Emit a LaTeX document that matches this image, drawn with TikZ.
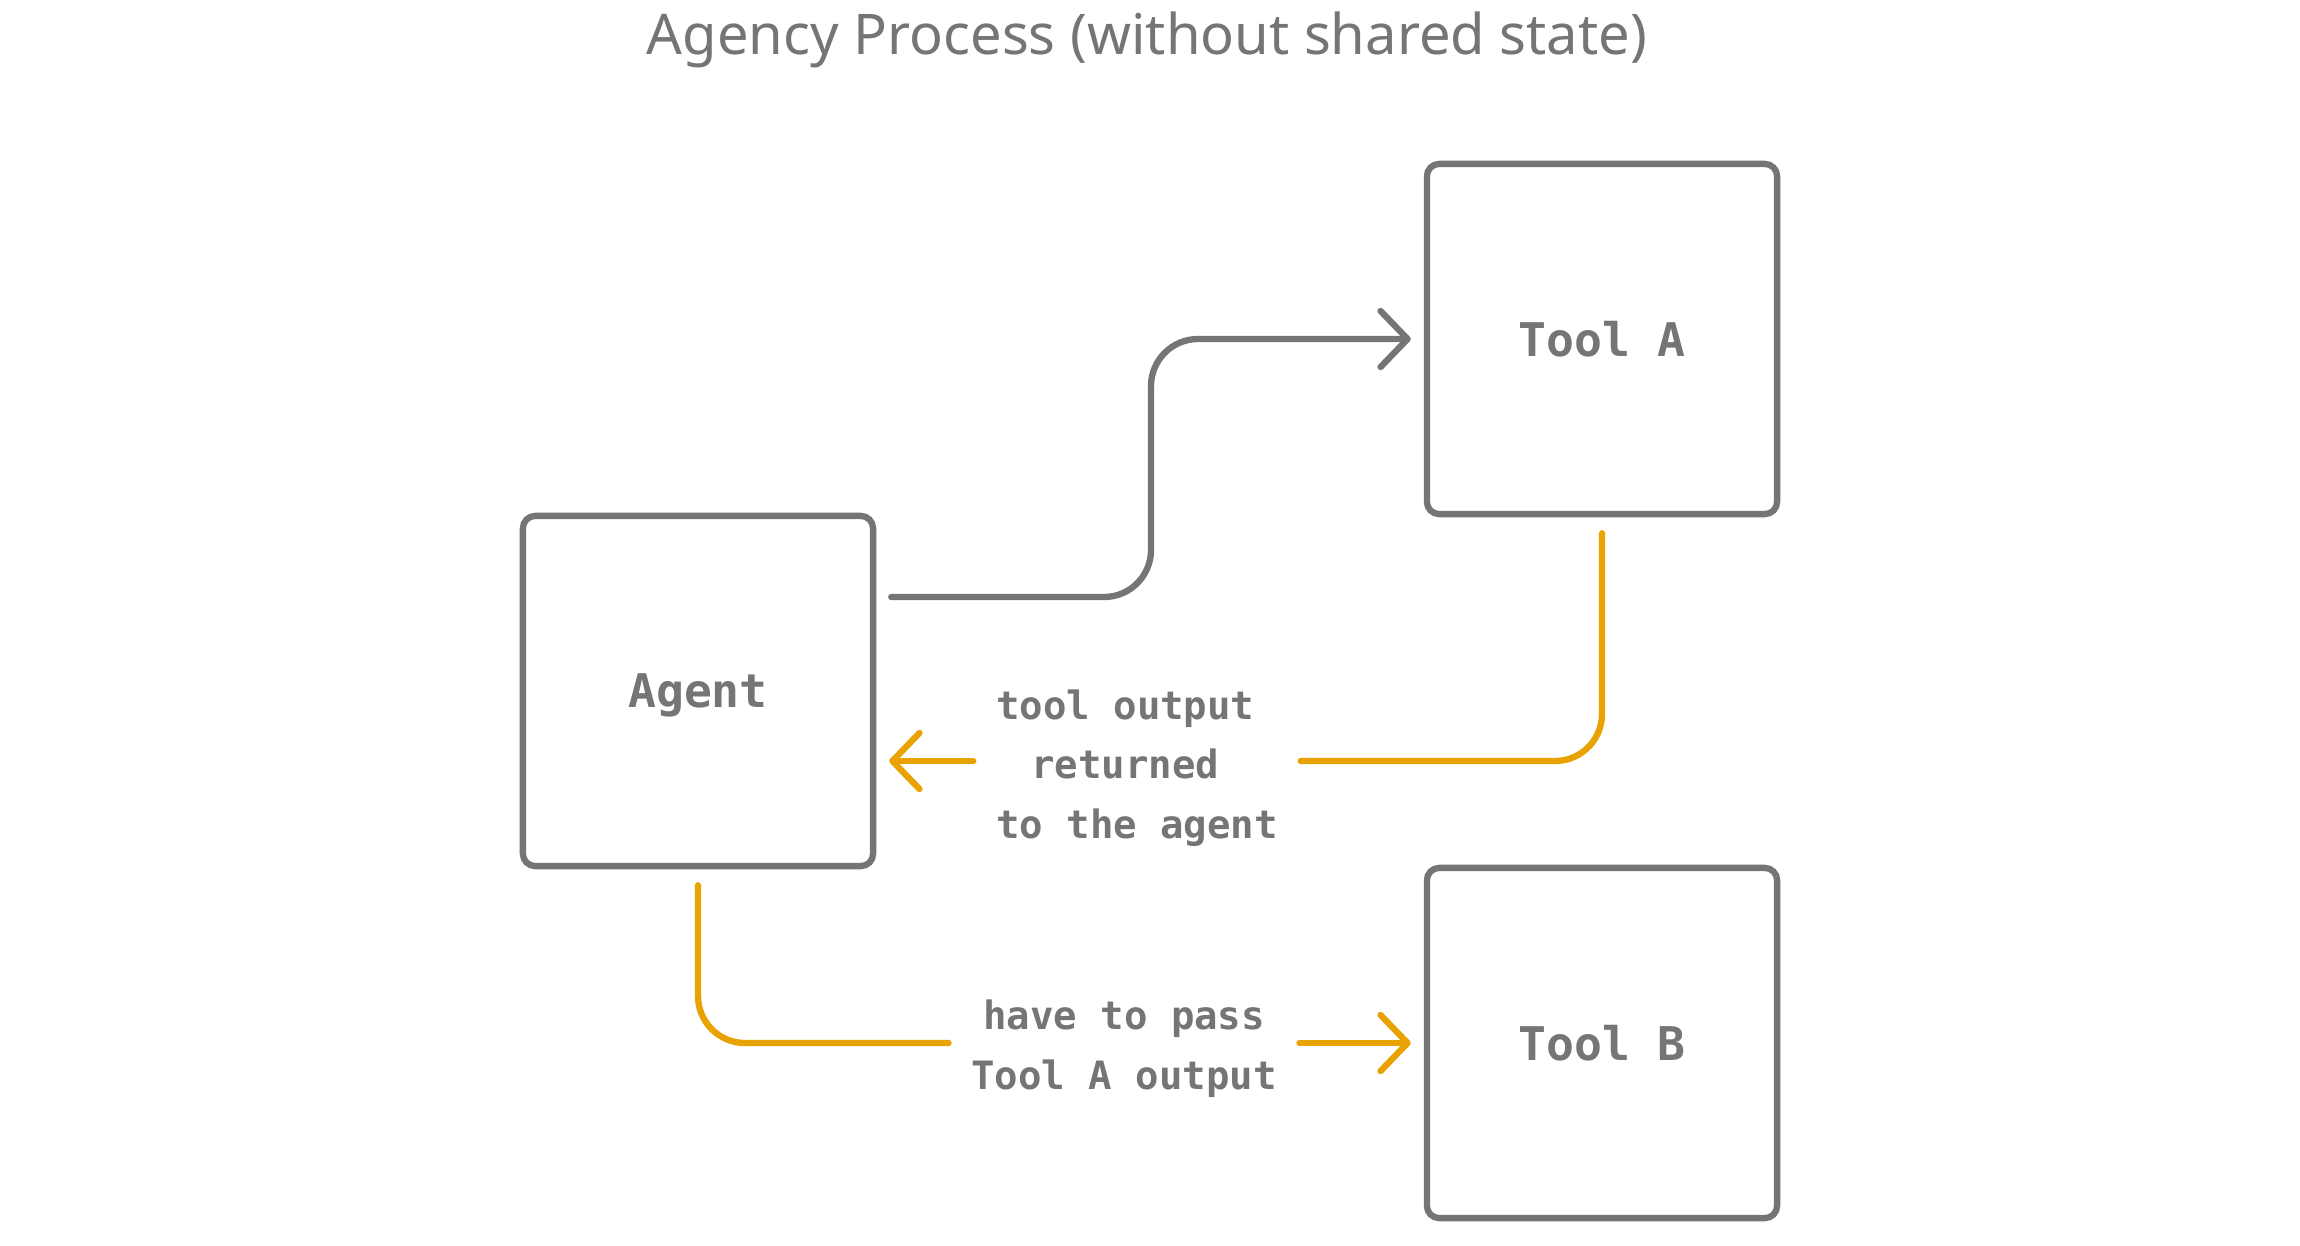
\documentclass[tikz,border=0pt]{standalone}
\usepackage{fontspec}
\setmainfont{Noto Sans}
\newfontfamily\monofont{DejaVu Sans Mono}
\usetikzlibrary{arrows.meta,calc}
\definecolor{lgray}{HTML}{757575}
\definecolor{lorange}{HTML}{E8A202}
\tikzset{
  boxnode/.style={draw=lgray, line width=1.8pt, rounded corners=3.5pt, minimum width=3.50cm, minimum height=3.50cm, inner sep=0pt, text depth=0pt, text=lgray, font=\monofont\bfseries\fontsize{13.2pt}{16pt}\selectfont},
  lblnode/.style={text=lgray, align=center, inner xsep=0.22cm, inner ysep=0pt, font=\monofont\bfseries\fontsize{11.1pt}{17pt}\selectfont},
  barb/.tip={Straight Barb[length=0.27cm,width=0.56cm,round]},
  grayline/.style={draw=lgray, line width=1.8pt, line cap=round, rounded corners=0.47cm},
  orangeline/.style={draw=lorange, line width=1.8pt, line cap=round, rounded corners=0.47cm},
}
\begin{document}
\begin{tikzpicture}[x=0.01cm,y=-0.01cm]
\useasboundingbox (0,0) rectangle (2300,1245);
\node[text=lgray, font=\fontsize{15.95pt}{20pt}\selectfont] (title) at (1147,40) {Agency Process (without shared state)};
\node[boxnode] (agent) at (698,691) {Agent};
\node[boxnode] (toola) at (1602,339) {Tool A};
\node[boxnode] (toolb) at (1602,1043) {Tool B};
\node[lblnode] (lbl1) at (1137,768) {tool output\hphantom{x}\\returned\hphantom{x}\\to the agent};
\node[lblnode] (lbl2) at (1124,1049) {have to pass\\Tool A output};
% gray: agent -> tool A
\coordinate (s1) at ($(agent.east)+(15,-94)$);
\coordinate (t1) at ($(toola.west)+(-13,0)$);
\draw[grayline, -{barb}] (s1) -| ($(s1)!0.5!(t1)$) |- (t1);
% orange: tool A -> agent
\coordinate (s2) at ($(toola.south)+(0,16)$);
\coordinate (g2) at (lbl1.east |- 0,761);
\coordinate (h2) at (lbl1.west |- 0,761);
\coordinate (t2) at ($(agent.east)+(13,70)$);
\draw[orangeline] (s2) |- (g2);
\draw[orangeline, -{barb}] (h2) -- (t2);
% orange: agent -> tool B
\coordinate (s3) at ($(agent.south)+(0,16)$);
\coordinate (g3) at (lbl2.west |- toolb.west);
\coordinate (h3) at (lbl2.east |- toolb.west);
\coordinate (t3) at ($(toolb.west)+(-13,0)$);
\draw[orangeline] (s3) |- (g3);
\draw[orangeline, -{barb}] (h3) -- (t3);
\end{tikzpicture}
\end{document}
